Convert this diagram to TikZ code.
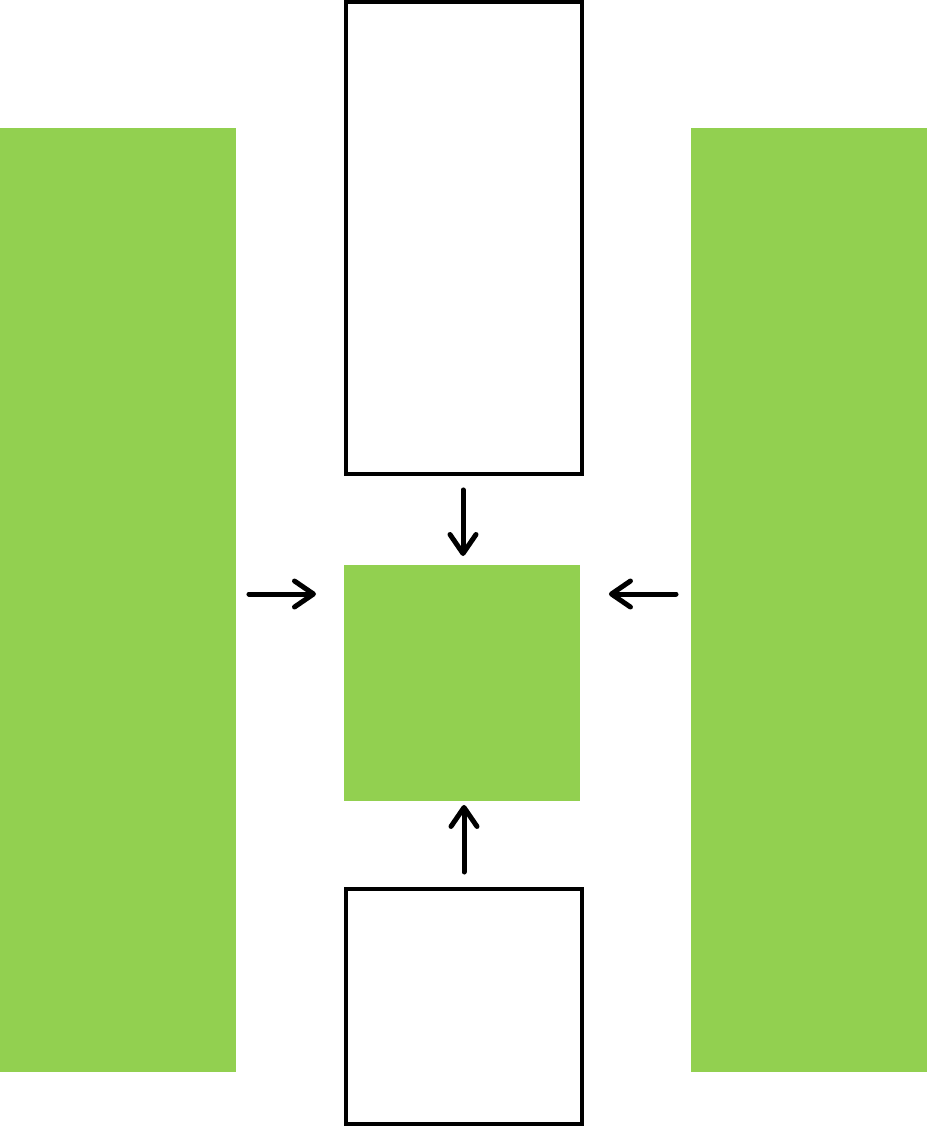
\documentclass[tikz,border=0pt]{standalone}
\usetikzlibrary{arrows.meta}
\definecolor{leaf}{HTML}{92D050}
\begin{document}
\begin{tikzpicture}[
x=0.02cm, y=-0.02cm,
gbox/.style={
    fill=leaf,
    draw=none,
    inner sep=0pt,
    outer sep=0pt,
    anchor=north west,
    },
wbox/.style={
    draw,
    line width=0.09cm,
    fill=white,
    inner sep=0pt,
    outer sep=0pt,
    anchor=north west,
    },
arr/.style={
    line width=0.1cm,
    line cap=round,
    -{Straight Barb[length=0.38cm,width=0.52cm,round]},
    },
]
\useasboundingbox (0,0) rectangle (927,1127);

\node[gbox, minimum width=4.72cm, minimum height=18.88cm] (left) at (0,128) {};
\node[gbox, minimum width=4.72cm, minimum height=18.88cm] (right) at (691,128) {};
\node[gbox, minimum width=4.72cm, minimum height=4.72cm] (mid) at (344,565) {};
\node[wbox, minimum width=4.72cm, minimum height=9.44cm] (top) at (346,2) {};
\node[wbox, minimum width=4.72cm, minimum height=4.70cm] (bottom) at (346,889) {};

\draw[arr, shorten <=0.32cm, shorten >=0.18cm] (top.south -| 463,0) -- (mid.north -| 463,0);
\draw[arr, shorten <=0.26cm, shorten >=0.56cm] (left.east |- 0,594) -- (mid.west |- 0,594);
\draw[arr, shorten <=0.30cm, shorten >=0.58cm] (right.west |- 0,594) -- (mid.east |- 0,594);
\draw[arr, shorten <=0.34cm, shorten >=0.08cm] (bottom.north -| 464,0) -- (mid.south -| 464,0);
\end{tikzpicture}
\end{document}
